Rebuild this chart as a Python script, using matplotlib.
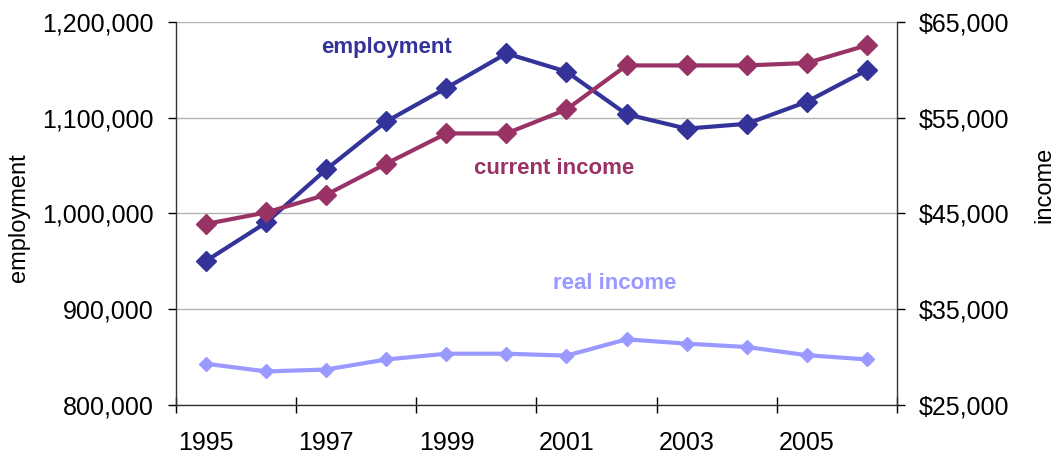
import numpy as np
import matplotlib
matplotlib.use("Agg")
import matplotlib.pyplot as plt
from matplotlib.ticker import FuncFormatter, FixedLocator

plt.rcParams['font.family'] = ['Liberation Sans', 'DejaVu Sans']

years = [1995, 1996, 1997, 1998, 1999, 2000, 2001, 2002, 2003, 2004, 2005, 2006]
employment = [950500, 990500, 1046000, 1096000, 1131000, 1167000,
              1148000, 1103500, 1088500, 1093500, 1116500, 1149500]
current_income = [43900, 45100, 46950, 50200, 53350, 53350,
                  55850, 60450, 60450, 60450, 60700, 62550]
real_income = [29300, 28500, 28700, 29750, 30350, 30350,
               30150, 31850, 31400, 31050, 30200, 29750]

navy = '#333399'
plum = '#993366'
lilac = '#9999FF'

x = np.arange(len(years))

fig = plt.figure(figsize=(10.55, 4.55), dpi=100)
ax1 = fig.add_subplot(111)
fig.subplots_adjust(left=0.167, right=0.850, top=0.952, bottom=0.110)
ax2 = ax1.twinx()

ax1.plot(x, employment, color=navy, lw=3, marker='D', ms=10.5, zorder=3)
ax2.plot(x, current_income, color=plum, lw=3, marker='D', ms=10.5, zorder=3)
ax2.plot(x, real_income, color=lilac, lw=3, marker='D', ms=7.5, zorder=3)

ax1.set_ylim(800000, 1200000)
ax2.set_ylim(25000, 65000)
ax1.set_xlim(-0.5, len(years) - 0.5)

ax1.set_yticks(np.arange(800000, 1200001, 100000))
ax2.set_yticks(np.arange(25000, 65001, 10000))
ax1.yaxis.set_major_formatter(FuncFormatter(lambda v, p: '{:,.0f}'.format(v)))
ax2.yaxis.set_major_formatter(FuncFormatter(lambda v, p: '${:,.0f}'.format(v)))

# category ticks sit between years, labels on every other year
ax1.xaxis.set_major_locator(FixedLocator(np.arange(-0.5, len(years), 2)))
ax1.xaxis.set_minor_locator(FixedLocator(x[::2]))
ax1.set_xticklabels([])
ax1.set_xticklabels([str(y) for y in years[::2]], minor=True)
ax1.tick_params(axis='x', which='major', direction='inout', length=12, width=1)
ax1.tick_params(axis='x', which='minor', length=0, pad=19, labelsize=18)

ax1.tick_params(axis='y', direction='out', length=6, width=1, labelsize=18, pad=10)
ax2.tick_params(axis='y', direction='out', length=6, width=1, labelsize=18, pad=10)

ax1.grid(axis='y', color='#b4b4b4', lw=1)
ax1.set_axisbelow(True)

for ax in (ax1, ax2):
    ax.spines['top'].set_visible(False)
    for s in ('left', 'right', 'bottom'):
        ax.spines[s].set_linewidth(1)
        ax.spines[s].set_color('#333333')
ax1.spines['right'].set_visible(False)
ax2.spines['left'].set_visible(False)
ax2.spines['bottom'].set_visible(False)

ax1.set_ylabel('employment', fontsize=17)
ax1.yaxis.set_label_coords(-0.203, 0.49)
ax2.set_ylabel('income', fontsize=17)
ax2.yaxis.set_label_coords(1.19, 0.575)

ax1.text(3.0, 1173000, 'employment', color=navy, fontsize=16,
         fontweight='bold', ha='center', va='center')
ax1.text(5.8, 1046500, 'current income', color=plum, fontsize=16,
         fontweight='bold', ha='center', va='center')
ax1.text(6.8, 926500, 'real income', color=lilac, fontsize=16,
         fontweight='bold', ha='center', va='center')

fig.savefig('out.png', dpi=100)
